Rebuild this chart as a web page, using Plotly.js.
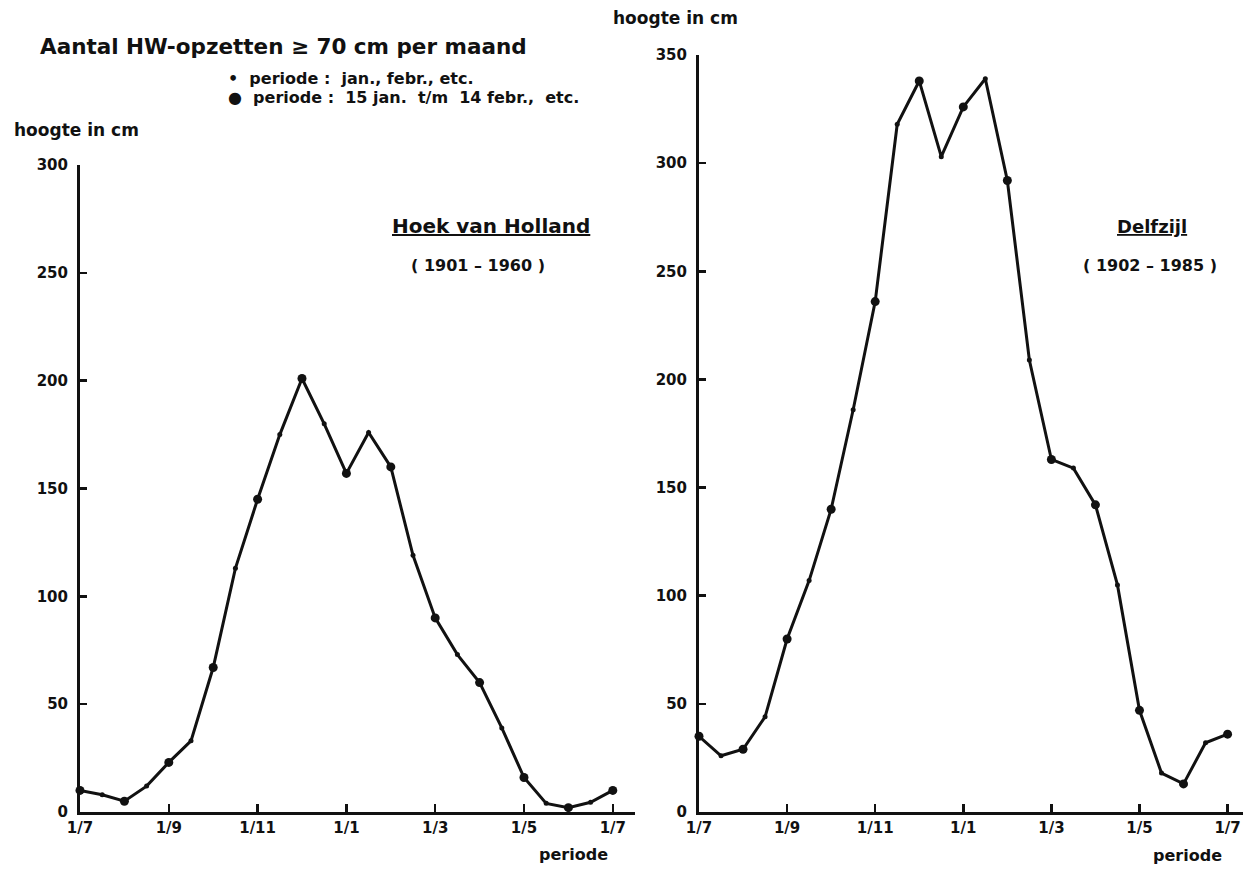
<!DOCTYPE html>
<html>
<head>
<meta charset="utf-8">
<script src="https://cdn.plot.ly/plotly-3.0.1.min.js"></script>
<style>
html,body{margin:0;padding:0;background:#fff;}
#chart{width:1257px;height:876px;}
</style>
</head>
<body>
<div id="chart"></div>
<script>
// half-month steps from 1 July to 1 July of the next year
const periodIndex = [0,1,2,3,4,5,6,7,8,9,10,11,12,13,14,15,16,17,18,19,20,21,22,23,24];
const tickPositions = [0,4,8,12,16,20,24];
const tickLabels = ['1/7','1/9','1/11','1/1','1/3','1/5','1/7'];

// Hoek van Holland (1901-1960)
const hoekValues = [10,8,5,12,23,33,67,113,145,175,201,180,157,176,160,119,90,73,60,39,16,4,2,4.5,10];
// Delfzijl (1902-1985)
const delfzijlValues = [35,26,29,44,80,107,140,186,236,318,338,303,326,339,292,209,163,159,142,105,47,18,13,32,36];

const W = 1257, H = 876;
const px = v => v / W;
const py = v => 1 - v / H;

const FONT = '"DejaVu Sans", "Liberation Sans", sans-serif';
const INK = '#111';

// even index: period 15th–14th (big dot), odd index: calendar month (small dot)
const markerSizes = periodIndex.map(i => (i % 2 === 0 ? 9 : 5));

const markerStyle = {color: INK, size: markerSizes, opacity: 1, line: {width: 0}};

const traces = [
  {x: periodIndex, y: hoekValues, xaxis: 'x', yaxis: 'y', type: 'scatter', mode: 'lines+markers',
   line: {color: INK, width: 3}, marker: markerStyle, cliponaxis: false, hoverinfo: 'skip'},
  {x: periodIndex, y: delfzijlValues, xaxis: 'x2', yaxis: 'y2', type: 'scatter', mode: 'lines+markers',
   line: {color: INK, width: 3}, marker: markerStyle, cliponaxis: false, hoverinfo: 'skip'}
];

const xCommon = {
  tickvals: tickPositions, ticktext: tickLabels, showgrid: false, zeroline: false,
  showline: true, linecolor: INK, linewidth: 3, ticks: 'inside', ticklen: 8, tickwidth: 2.5, tickcolor: INK,
  tickfont: {family: FONT, size: 15, color: INK, weight: 'bold'}, fixedrange: true
};
const yCommon = {
  showgrid: false, zeroline: false, showline: true, linecolor: INK, linewidth: 3,
  ticks: 'inside', ticklen: 7, tickwidth: 2.5, tickcolor: INK, dtick: 50, ticklabelstandoff: 6,
  tickfont: {family: FONT, size: 15, color: INK, weight: 'bold'}, fixedrange: true
};

function note(text, x, y, size, anchor) {
  return {text: text, x: px(x), y: py(y), xref: 'paper', yref: 'paper', showarrow: false,
          xanchor: anchor || 'left', yanchor: 'middle', font: {family: FONT, size: size, color: INK}};
}

const layout = {
  width: W, height: H,
  margin: {l: 0, r: 0, t: 0, b: 0},
  paper_bgcolor: '#fff', plot_bgcolor: '#fff',
  showlegend: false,
  xaxis: Object.assign({}, xCommon, {domain: [px(80), px(635)], range: [0, 25], anchor: 'y'}),
  yaxis: Object.assign({}, yCommon, {domain: [py(812), py(165)], range: [0, 300], anchor: 'x'}),
  xaxis2: Object.assign({}, xCommon, {domain: [px(699), px(1243)], range: [0, 24.7], anchor: 'y2'}),
  yaxis2: Object.assign({}, yCommon, {domain: [py(812), py(55)], range: [0, 350], anchor: 'x2'}),
  annotations: [
    note('<b>Aantal HW-opzetten ≥ 70 cm per maand</b>', 283, 47, 21.5, 'center'),
    note('<b>•  periode :  jan., febr., etc.</b>', 226, 78, 16),
    note('<b>●  periode :  15 jan.  t/m  14 febr.,  etc.</b>', 226, 98, 16),
    note('<b>hoogte in cm</b>', 12, 130, 17),
    note('<b>hoogte in cm</b>', 676, 18, 17, 'center'),
    note('<b>periode</b>', 610, 854, 16, 'right'),
    note('<b>periode</b>', 1224, 855, 16, 'right'),
    note('<b><u>Hoek van Holland</u></b>', 491, 226, 20, 'center'),
    note('<b>( 1901 – 1960 )</b>', 478, 265, 16, 'center'),
    note('<b><u>Delfzijl</u></b>', 1152, 226, 18, 'center'),
    note('<b>( 1902 – 1985 )</b>', 1150, 265, 16, 'center')
  ]
};

Plotly.newPlot('chart', traces, layout, {displayModeBar: false, staticPlot: true});
</script>
</body>
</html>
